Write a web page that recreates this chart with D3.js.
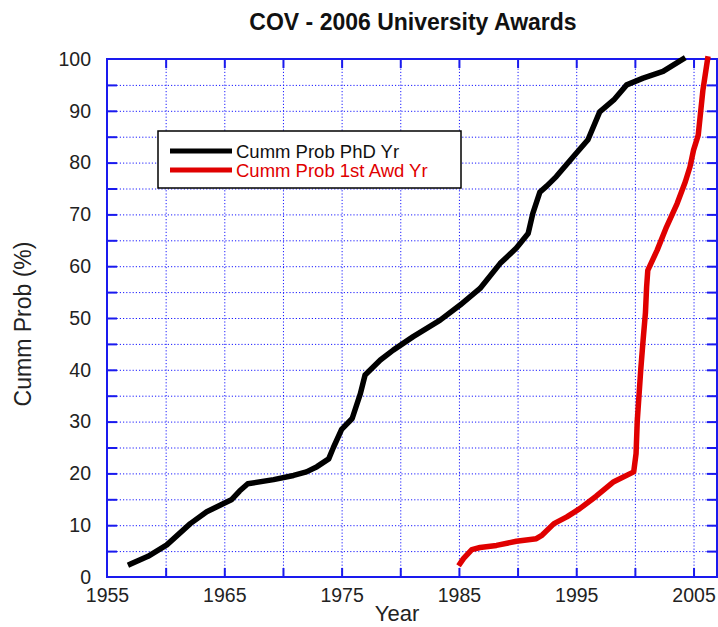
<!DOCTYPE html>
<html>
<head>
<meta charset="utf-8">
<script src="https://cdn.jsdelivr.net/npm/d3@7"></script>
<style>
    body { margin: 0; background: #fff; }
    svg text { font-family: "Liberation Sans", Arial, Helvetica, sans-serif; }
    .grid line { stroke: #1a1aff; stroke-width: 1; stroke-dasharray: 1.2, 2; }
    .grid path { display: none; }
    .ticks line { stroke: #1a1aee; stroke-width: 2; }
    .ticks path { display: none; }
    .labels path, .labels line { display: none; }
    .labels text { font-size: 19.5px; fill: #222; }
</style>
</head>
<body>
<svg id="chart" width="718" height="627"></svg>
<script>
// data
var phdYear = [1957.0, 1958.5, 1960.1, 1962.1, 1963.5, 1965.6, 1966.3, 1967.0, 1969.2, 1970.9,
    1972.0, 1972.9, 1973.9, 1974.3, 1975.0, 1975.9, 1976.6, 1977.0, 1978.3, 1979.4,
    1981.1, 1983.4, 1985.1, 1986.8, 1988.5, 1989.9, 1990.9, 1991.3, 1991.9, 1992.5,
    1993.3, 1995.0, 1996.0, 1997.0, 1998.2, 1999.3, 2000.7, 2002.4, 2004.1];
var phdProb = [2.5, 4.0, 6.2, 10.3, 12.6, 14.9, 16.6, 18.0, 18.8, 19.6,
    20.3, 21.3, 22.8, 25.0, 28.5, 30.6, 35.4, 39.0, 41.9, 43.8,
    46.4, 49.6, 52.5, 55.7, 60.5, 63.5, 66.3, 70.2, 74.3, 75.5,
    77.3, 81.8, 84.4, 89.8, 92.1, 95.0, 96.3, 97.6, 100];

var awdYear = [1985.1, 1985.4, 1986.1, 1986.8, 1988.2, 1989.9, 1991.6, 1992.1, 1993.1, 1994.2,
    1995.3, 1996.7, 1998.2, 1999.9, 2000.1, 2000.2, 2000.5, 2000.7, 2000.9, 2001.0,
    2001.1, 2001.9, 2002.7, 2003.6, 2004.3, 2004.7, 2005.0, 2005.4, 2005.8, 2006.2];
var awdProb = [2.6, 3.6, 5.3, 5.7, 6.1, 6.9, 7.4, 8.1, 10.3, 11.6,
    13.2, 15.6, 18.4, 20.3, 23.8, 30.0, 40.0, 45.7, 51.0, 56.0,
    59.2, 63.1, 67.6, 72.1, 76.3, 79.2, 82.4, 85.3, 94.0, 100];

var seriesNames = ["Cumm Prob PhD Yr", "Cumm Prob 1st Awd Yr"];
var xTickLabels = [1955, 1965, 1975, 1985, 1995, 2005];
var yTickLabels = [0, 10, 20, 30, 40, 50, 60, 70, 80, 90, 100];
var xGridValues = [1960, 1965, 1970, 1975, 1980, 1985, 1990, 1995, 2000, 2005];
var yGridValues = [5, 10, 15, 20, 25, 30, 35, 40, 45, 50, 55, 60, 65, 70, 75, 80, 85, 90, 95];

var margin = { top: 59, right: 1, bottom: 50, left: 107 },
    W = 718 - margin.left - margin.right,
    H = 627 - margin.top - margin.bottom;

var svg = d3.select('#chart'),
    g = svg.append('g').attr('transform', 'translate(' + margin.left + ',' + margin.top + ')');

var x = d3.scaleLinear().domain([1955, 2007]).range([0, W]),
    y = d3.scaleLinear().domain([0, 100]).range([H, 0]);

// dotted grid
g.append('g').attr('class', 'grid')
    .call(d3.axisBottom(x).tickValues(xGridValues).tickSize(H).tickFormat(''));
g.append('g').attr('class', 'grid')
    .call(d3.axisLeft(y).tickValues(yGridValues).tickSize(-W).tickFormat(''));

// inward ticks on all four sides
g.append('g').attr('class', 'ticks').attr('transform', 'translate(0,' + H + ')')
    .call(d3.axisBottom(x).tickValues(xGridValues).tickSize(-9).tickFormat(''));
g.append('g').attr('class', 'ticks')
    .call(d3.axisTop(x).tickValues(xGridValues).tickSize(-9).tickFormat(''));
g.append('g').attr('class', 'ticks')
    .call(d3.axisLeft(y).tickValues(yGridValues).tickSize(-10).tickFormat(''));
g.append('g').attr('class', 'ticks').attr('transform', 'translate(' + W + ',0)')
    .call(d3.axisRight(y).tickValues(yGridValues).tickSize(-10).tickFormat(''));

// labels
g.append('g').attr('class', 'labels').attr('transform', 'translate(0,' + H + ')')
    .call(d3.axisBottom(x).tickValues(xTickLabels).tickSize(0).tickPadding(11).tickFormat(d3.format('d')));
g.append('g').attr('class', 'labels')
    .call(d3.axisLeft(y).tickValues(yTickLabels).tickSize(0).tickPadding(16).tickFormat(d3.format('d')));

// frame
g.append('rect')
    .attr('width', W).attr('height', H)
    .attr('fill', 'none').attr('stroke', '#1a1aee').attr('stroke-width', 2);

// curves
var line = d3.line()
    .x(function(d) { return x(d[0]); })
    .y(function(d) { return y(d[1]); });

var series = [
    { data: d3.zip(phdYear, phdProb), color: '#000', label: seriesNames[0] },
    { data: d3.zip(awdYear, awdProb), color: '#e00000', label: seriesNames[1] }
];

g.selectAll('.series')
    .data(series)
    .enter().append('path')
    .attr('class', 'series')
    .attr('d', function(d) { return line(d.data); })
    .attr('fill', 'none')
    .attr('stroke', function(d) { return d.color; })
    .attr('stroke-width', 5.5)
    .attr('stroke-linejoin', 'round')
    .attr('stroke-linecap', 'square');

// legend
var legend = svg.append('g').attr('transform', 'translate(158,131)');
legend.append('rect')
    .attr('width', 303).attr('height', 57)
    .attr('fill', '#fff').attr('stroke', '#000').attr('stroke-width', 1.5);

var item = legend.selectAll('.item')
    .data(series)
    .enter().append('g')
    .attr('transform', function(d, i) { return 'translate(0,' + (20 + i * 19) + ')'; });
item.append('line')
    .attr('x1', 12).attr('x2', 74)
    .attr('stroke', function(d) { return d.color; })
    .attr('stroke-width', 5);
item.append('text')
    .attr('x', 78).attr('y', 7)
    .attr('fill', function(d) { return d.color === '#000' ? '#111' : '#e00000'; })
    .style('font-size', '18.5px')
    .text(function(d) { return d.label; });

// titles
svg.append('text')
    .attr('x', 413).attr('y', 30)
    .attr('text-anchor', 'middle')
    .style('font-size', '23px').style('font-weight', 'bold').attr('fill', '#111')
    .text('COV - 2006 University Awards');

svg.append('text')
    .attr('x', 397).attr('y', 621)
    .attr('text-anchor', 'middle')
    .style('font-size', '22px').attr('fill', '#222')
    .text('Year');

svg.append('text')
    .attr('transform', 'translate(31,324) rotate(-90)')
    .attr('text-anchor', 'middle')
    .style('font-size', '23px').attr('fill', '#222')
    .text('Cumm Prob (%)');
</script>
</body>
</html>
